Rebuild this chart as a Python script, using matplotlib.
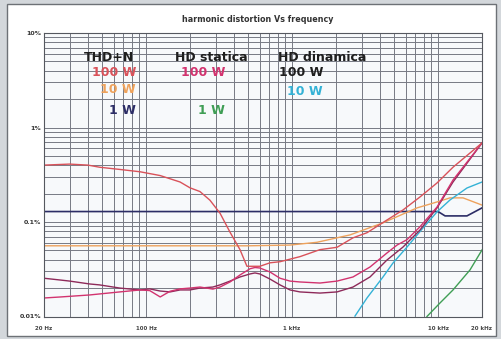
import matplotlib.pyplot as plt
from matplotlib.patches import Rectangle

# frequency (Hz) / distortion (%) readings for each trace
thdn_100w_f = [20, 30, 40, 48, 66, 91, 125, 171, 200, 234, 274, 321, 376, 440, 491,
               602, 706, 827, 1133, 1553, 2033, 2615, 3260, 4467, 5752, 7519, 9840,
               12660, 20000]
thdn_100w_v = [0.40, 0.41, 0.40, 0.38, 0.36, 0.34, 0.31, 0.265, 0.23, 0.21, 0.17,
               0.124, 0.078, 0.051, 0.034, 0.034, 0.037, 0.038, 0.043, 0.051, 0.054,
               0.068, 0.077, 0.105, 0.134, 0.184, 0.259, 0.38, 0.686]

thdn_10w_f = [20, 100, 500, 968, 1482, 2494, 4197, 7178, 9840, 12070, 14830, 20000]
thdn_10w_v = [0.056, 0.056, 0.056, 0.057, 0.061, 0.073, 0.098, 0.141, 0.163, 0.180,
              0.180, 0.151]

thdn_1w_f = [20, 1000, 10000, 11170, 15780, 20000]
thdn_1w_v = [0.129, 0.129, 0.129, 0.116, 0.116, 0.141]

hds_100w_f = [20, 26, 41, 66, 91, 106, 125, 146, 171, 200, 234, 287, 321, 376, 440,
              515, 557, 602, 706, 827, 968, 1133, 1553, 2033, 2615, 3419, 4467, 5236,
              6127, 7519, 9840, 12660, 20000]
hds_100w_v = [0.0157, 0.0161, 0.0169, 0.0182, 0.0191, 0.0188, 0.0161, 0.0185, 0.0196,
              0.0200, 0.0205, 0.0195, 0.0205, 0.0232, 0.0275, 0.0320, 0.0330, 0.0326,
              0.0296, 0.0254, 0.0237, 0.0232, 0.0226, 0.0237, 0.0262, 0.0334, 0.047,
              0.057, 0.065, 0.089, 0.144, 0.278, 0.686]

hds_1w_f = [8396, 10310, 12660, 16550, 20000]
hds_1w_v = [0.0100, 0.0139, 0.0191, 0.0311, 0.0506]

hdd_100w_f = [20, 26, 30, 41, 48, 66, 91, 106, 125, 146, 171, 200, 234, 287, 321, 376,
              440, 515, 557, 602, 706, 827, 968, 1133, 1553, 2033, 2615, 3419, 4467,
              5752, 7519, 9840, 12660, 20000]
hdd_100w_v = [0.0254, 0.0243, 0.0237, 0.0221, 0.0216, 0.0200, 0.0191, 0.0196, 0.0186,
              0.0182, 0.0191, 0.0191, 0.0200, 0.0205, 0.0216, 0.0237, 0.0262, 0.0282,
              0.0289, 0.0282, 0.0249, 0.0216, 0.0191, 0.0182, 0.0177, 0.0182, 0.0205,
              0.0262, 0.0396, 0.0543, 0.0822, 0.141, 0.265, 0.686]

hdd_10w_f = [2698, 3260, 4197, 4913, 6127, 7889, 9840, 12070, 15780, 20000]
hdd_10w_v = [0.0101, 0.0157, 0.0262, 0.0368, 0.0543, 0.0865, 0.128, 0.171, 0.229, 0.265]

xtick_vals = [20, 100, 1000, 10000, 20000]
xtick_labels = ['20 Hz', '100 Hz', '1 kHz', '10 kHz', '20 kHz']
ytick_vals = [0.01, 0.1, 1, 10]
ytick_labels = ['0.01%', '0.1%', '1%', '10%']

RED = '#d9525a'
ORANGE = '#eea25c'
NAVY = '#2c2d66'
PINK = '#d2336f'
GREEN = '#3f9e55'
PLUM = '#8e2a5a'
CYAN = '#34b2d6'

W, H = 501, 339
fig = plt.figure(figsize=(W / 100, H / 100), dpi=100)
fig.patch.set_facecolor('#d3d7db')
fig.add_artist(Rectangle((7 / W, 3 / H), 489 / W, 332 / H, transform=fig.transFigure,
                         facecolor='white', edgecolor='#6d7176', lw=1.0, zorder=-5))

ax = fig.add_axes([44 / W, (H - 316.5) / H, 438 / W, 283.5 / H])
ax.set_facecolor('#f7f9fb')
ax.set_xscale('log')
ax.set_yscale('log')
ax.set_xlim(20, 20000)
ax.set_ylim(0.01, 10)

ax.grid(True, which='both', color='#767a84', lw=0.7)
ax.set_axisbelow(True)
for s in ax.spines.values():
    s.set_color('#55585f')
    s.set_linewidth(0.8)

ax.set_xticks(xtick_vals)
ax.set_xticklabels(xtick_labels, fontsize=4, color='#444', fontweight='bold')
ax.set_yticks(ytick_vals)
ax.set_yticklabels(ytick_labels, fontsize=4.5, color='#333', fontweight='bold')
ax.tick_params(which='both', length=0)
ax.tick_params(axis='x', pad=7)
ax.tick_params(axis='y', pad=2)

lw = 1.0
ax.plot(thdn_1w_f, thdn_1w_v, color=NAVY, lw=1.2)
ax.plot(thdn_10w_f, thdn_10w_v, color=ORANGE, lw=lw)
ax.plot(hdd_10w_f, hdd_10w_v, color=CYAN, lw=lw)
ax.plot(hds_1w_f, hds_1w_v, color=GREEN, lw=lw)
ax.plot(hdd_100w_f, hdd_100w_v, color=PLUM, lw=lw)
ax.plot(hds_100w_f, hds_100w_v, color=PINK, lw=lw)
ax.plot(thdn_100w_f, thdn_100w_v, color=RED, lw=lw)

fig.text(258 / W, 1 - 19 / H, 'harmonic distortion Vs frequency', ha='center',
         va='center', fontsize=5.8, fontweight='bold', color='#333')

# in-plot legend blocks
hdr = dict(fontsize=9, fontweight='bold', color='#1e1e1e', va='center',
           transform=ax.transAxes)
ax.text(0.205, 0.915, 'THD+N', ha='right', **hdr)
ax.text(0.382, 0.915, 'HD statica', ha='center', **hdr)
ax.text(0.634, 0.915, 'HD dinamica', ha='center', **hdr)

def tag(x, y, s, c):
    ax.text(x, y, s, ha='right', va='center', fontsize=9, fontweight='bold',
            color=c, transform=ax.transAxes)

tag(0.210, 0.859, '100 W', RED)
tag(0.210, 0.799, '10 W', ORANGE)
tag(0.210, 0.728, '1 W', NAVY)
tag(0.413, 0.859, '100 W', PINK)
tag(0.413, 0.728, '1 W', GREEN)
tag(0.637, 0.859, '100 W', '#1e1e1e')
tag(0.637, 0.792, '10 W', CYAN)

fig.savefig('out.png', dpi=100, facecolor=fig.get_facecolor())
